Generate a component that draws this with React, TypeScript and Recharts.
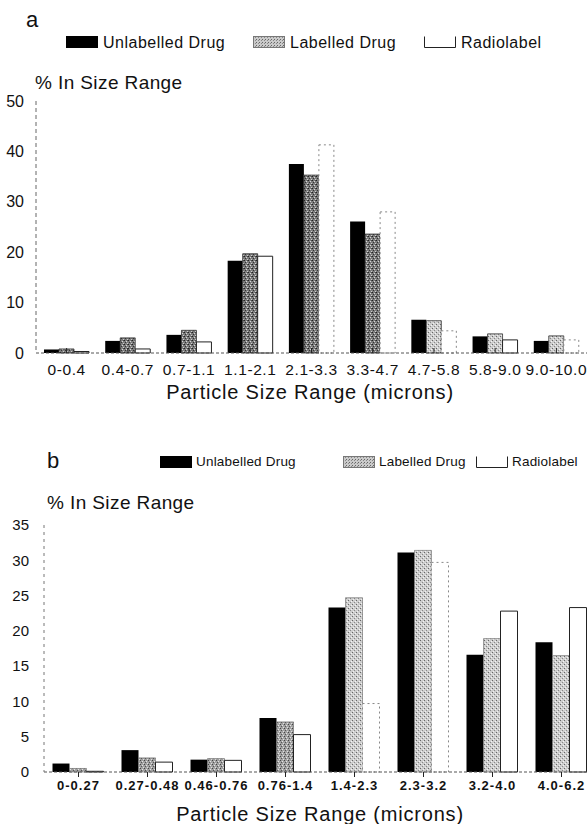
import React from 'react';
import { BarChart, Bar, XAxis, YAxis, Cell } from 'recharts';

// panel a
const catsA = ['0-0.4', '0.4-0.7', '0.7-1.1', '1.1-2.1', '2.1-3.3', '3.3-4.7', '4.7-5.8', '5.8-9.0', '9.0-10.0'];
const unlabelledA = [0.7, 2.4, 3.6, 18.3, 37.5, 26.1, 6.6, 3.3, 2.4];
const labelledA = [0.8, 3.0, 4.5, 19.7, 35.3, 23.6, 6.4, 3.8, 3.4];
const radioA = [0.3, 0.8, 2.2, 19.2, 41.3, 28.0, 4.4, 2.6, 2.6];
const ticksA = [0, 10, 20, 30, 40, 50];

// panel b
const catsB = ['0-0.27', '0.27-0.48', '0.46-0.76', '0.76-1.4', '1.4-2.3', '2.3-3.2', '3.2-4.0', '4.0-6.2'];
const unlabelledB = [1.2, 3.1, 1.75, 7.65, 23.3, 31.1, 16.6, 18.4];
const labelledB = [0.5, 2.0, 1.9, 7.1, 24.7, 31.4, 18.9, 16.5];
const radioB = [0.1, 1.4, 1.65, 5.3, 9.7, 29.7, 22.8, 23.3];
const ticksB = [0, 5, 10, 15, 20, 25, 30, 35];

// print quirks of the scan: faded radiolabel outlines, lighter stipple
const fadedRadioA = [4, 5, 6, 8];
const fadedRadioB = [4, 5];
const lightStippleA = [6, 7, 8];
const lightStippleB = [4, 5, 6, 7];

const FONT = '"Liberation Sans", Arial, Helvetica, sans-serif';

const build = (cats: string[], u: number[], l: number[], r: number[]) =>
  cats.map((name, i) => ({ name, unlabelled: u[i], labelled: l[i], radio: r[i] }));

const dataA = build(catsA, unlabelledA, labelledA, radioA);
const dataB = build(catsB, unlabelledB, labelledB, radioB);

const CatTick = (props: any) => {
  const { x, y, payload, fs, weight, ls, dy, up, down } = props;
  return (
    <g>
      {up ? <line x1={x} x2={x} y1={y - up} y2={y} stroke="#222" strokeWidth={1} /> : null}
      {down ? <line x1={x} x2={x} y1={y} y2={y + down} stroke="#222" strokeWidth={1} /> : null}
      <text
        x={x}
        y={y + dy}
        textAnchor="middle"
        dominantBaseline="central"
        fontSize={fs}
        fontWeight={weight}
        letterSpacing={ls}
        fontFamily={FONT}
        fill="#111"
      >
        {payload.value}
      </text>
    </g>
  );
};

const Swatch = ({ kind }: { kind: string }) => (
  <svg width={32} height={12} style={{ display: 'block' }}>
    {kind === 'black' && <rect x={0} y={0} width={32} height={12} fill="#000" />}
    {kind === 'lab' && <rect x={0.5} y={0.5} width={31} height={11} fill="url(#stippleLeg)" stroke="#777" />}
    {kind === 'radio' && <path d="M0.5 0.5 V11.5 H31.5 V0.5" fill="#fff" stroke="#222" />}
  </svg>
);

const text = (s: string, left: number, top: number, size: number, extra: React.CSSProperties = {}) => (
  <div
    style={{
      position: 'absolute',
      left,
      top,
      transform: 'translateY(-50%)',
      fontFamily: FONT,
      fontSize: size,
      color: '#111',
      whiteSpace: 'nowrap',
      lineHeight: 1,
      ...extra,
    }}
  >
    {s}
  </div>
);

const swatchAt = (kind: string, left: number, top: number) => (
  <div style={{ position: 'absolute', left, top }}>
    <Swatch kind={kind} />
  </div>
);

export default function App() {
  return (
    <div style={{ position: 'absolute', left: 0, top: 0, width: 588, height: 824, overflow: 'hidden', background: '#fff' }}>
      <svg width={0} height={0} style={{ position: 'absolute' }}>
        <defs>
          <pattern id="stippleDark" width={4} height={4} patternUnits="userSpaceOnUse">
            <rect width={4} height={4} fill="#7c7c7c" />
            <rect x={0} y={0} width={1} height={1} fill="#222" />
            <rect x={2} y={1} width={1} height={1} fill="#d8d8d8" />
            <rect x={1} y={2} width={1} height={1} fill="#333" />
            <rect x={3} y={3} width={1} height={1} fill="#cfcfcf" />
            <rect x={3} y={0} width={1} height={1} fill="#4a4a4a" />
          </pattern>
          <pattern id="stippleMid" width={4} height={4} patternUnits="userSpaceOnUse">
            <rect width={4} height={4} fill="#a0a0a0" />
            <rect x={0} y={0} width={1} height={1} fill="#444" />
            <rect x={2} y={1} width={1} height={1} fill="#e6e6e6" />
            <rect x={1} y={2} width={1} height={1} fill="#555" />
            <rect x={3} y={3} width={1} height={1} fill="#e0e0e0" />
          </pattern>
          <pattern id="stippleLight" width={4} height={4} patternUnits="userSpaceOnUse">
            <rect width={4} height={4} fill="#cdcdcd" />
            <rect x={0} y={0} width={1} height={1} fill="#666" />
            <rect x={2} y={2} width={1} height={1} fill="#888" />
            <rect x={3} y={1} width={1} height={1} fill="#f4f4f4" />
            <rect x={1} y={3} width={1} height={1} fill="#f0f0f0" />
          </pattern>
          <pattern id="stippleLeg" width={3} height={3} patternUnits="userSpaceOnUse">
            <rect width={3} height={3} fill="#cacaca" />
            <rect x={0} y={0} width={1} height={1} fill="#666" />
            <rect x={2} y={1} width={1} height={1} fill="#888" />
          </pattern>
        </defs>
      </svg>

      {/* panel a */}
      {text('a', 26, 20, 22)}
      {swatchAt('black', 66, 36)}
      {text('Unlabelled Drug', 103, 43, 16, { letterSpacing: 0.5 })}
      {swatchAt('lab', 253, 36)}
      {text('Labelled Drug', 290, 43, 16, { letterSpacing: 0.5 })}
      {swatchAt('radio', 424, 36)}
      {text('Radiolabel', 461, 43, 16, { letterSpacing: 0.5 })}
      {text('% In Size Range', 35, 82, 19, { letterSpacing: 0.4 })}

      <div style={{ position: 'absolute', left: 0, top: 0 }}>
        <BarChart
          width={588}
          height={410}
          data={dataA}
          margin={{ top: 101, right: 1, left: 0, bottom: 0 }}
          barCategoryGap={8}
          barGap={0}
        >
          <XAxis
            dataKey="name"
            height={57}
            interval={0}
            tickSize={0}
            tickMargin={0}
            axisLine={{ stroke: '#555', strokeDasharray: '3 2' }}
            tick={<CatTick fs={15.5} weight={400} ls={0.6} dy={16} up={5} />}
          />
          <YAxis
            width={36}
            domain={[0, 50]}
            ticks={ticksA}
            interval={0}
            tickLine={false}
            tickMargin={6}
            axisLine={{ stroke: '#666', strokeDasharray: '4 3' }}
            tick={{ fontSize: 16, fill: '#111', fontFamily: FONT }}
          />
          <Bar dataKey="unlabelled" fill="#000" isAnimationActive={false} />
          <Bar dataKey="labelled" stroke="#333" strokeWidth={0.8} isAnimationActive={false}>
            {dataA.map((d, i) => (
              <Cell key={d.name} fill={lightStippleA.includes(i) ? 'url(#stippleLight)' : 'url(#stippleDark)'} />
            ))}
          </Bar>
          <Bar dataKey="radio" fill="#fff" isAnimationActive={false}>
            {dataA.map((d, i) => (
              <Cell
                key={d.name}
                stroke={fadedRadioA.includes(i) ? '#888' : '#222'}
                strokeWidth={1}
                strokeDasharray={fadedRadioA.includes(i) ? '2 3' : undefined}
              />
            ))}
          </Bar>
        </BarChart>
      </div>
      {text('Particle Size Range (microns)', 310, 392, 20, { letterSpacing: 0.8, transform: 'translate(-50%, -50%)' })}

      {/* panel b */}
      {text('b', 47, 461, 22)}
      {swatchAt('black', 160, 456)}
      {text('Unlabelled Drug', 196, 462, 13.5, { letterSpacing: 0.2 })}
      {swatchAt('lab', 343, 456)}
      {text('Labelled Drug', 379, 462, 13.5, { letterSpacing: 0.2 })}
      {swatchAt('radio', 476, 456)}
      {text('Radiolabel', 512, 462, 13.5, { letterSpacing: 0.2 })}
      {text('% In Size Range', 47, 502, 19, { letterSpacing: 0.4 })}

      <div style={{ position: 'absolute', left: 0, top: 420 }}>
        <BarChart
          width={600}
          height={404}
          data={dataB}
          margin={{ top: 105, right: 4, left: 0, bottom: 0 }}
          barCategoryGap={8.5}
          barGap={0}
        >
          <XAxis
            dataKey="name"
            height={52}
            interval={0}
            tickSize={0}
            tickMargin={0}
            axisLine={{ stroke: '#555', strokeDasharray: '3 2' }}
            tick={<CatTick fs={13} weight={700} ls={1} dy={13} down={5} />}
          />
          <YAxis
            width={44}
            domain={[0, 35]}
            ticks={ticksB}
            interval={0}
            tickLine={false}
            tickMargin={9}
            axisLine={{ stroke: '#777', strokeDasharray: '3 4' }}
            tick={{ fontSize: 15, fill: '#111', fontFamily: FONT }}
          />
          <Bar dataKey="unlabelled" fill="#000" isAnimationActive={false} />
          <Bar dataKey="labelled" stroke="#666" strokeWidth={0.6} isAnimationActive={false}>
            {dataB.map((d, i) => (
              <Cell key={d.name} fill={lightStippleB.includes(i) ? 'url(#stippleLight)' : 'url(#stippleMid)'} />
            ))}
          </Bar>
          <Bar dataKey="radio" fill="#fff" isAnimationActive={false}>
            {dataB.map((d, i) => (
              <Cell
                key={d.name}
                stroke={fadedRadioB.includes(i) ? '#888' : '#222'}
                strokeWidth={1}
                strokeDasharray={fadedRadioB.includes(i) ? '2 3' : undefined}
              />
            ))}
          </Bar>
        </BarChart>
      </div>
      {text('Particle Size Range (microns)', 320, 814, 20, { letterSpacing: 0.8, transform: 'translate(-50%, -50%)' })}
    </div>
  );
}
